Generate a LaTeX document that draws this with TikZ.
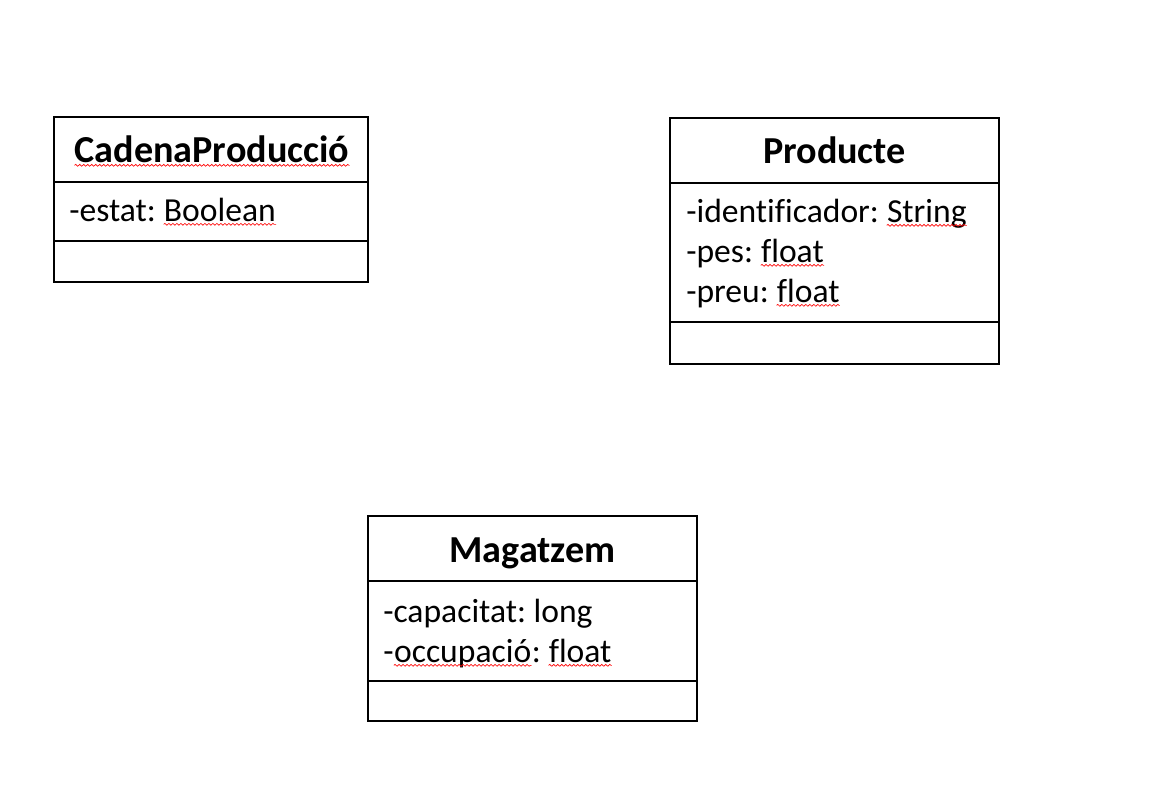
\documentclass[tikz,border=0pt]{standalone}
\usepackage{fontspec}
\setmainfont{Carlito}[Ligatures=CommonOff]
\usetikzlibrary{positioning}
\usetikzlibrary{decorations.pathmorphing}
\frenchspacing

\begin{document}
\begin{tikzpicture}[x=0.75pt,y=-0.75pt,
    attr/.style={inner sep=0pt, anchor=base west, font=\fontsize{25.2}{30}\selectfont},
    title/.style={inner sep=0pt, anchor=base, font=\fontsize{28.6}{34}\selectfont\bfseries}]
    \tikzset{classbox/.style={draw=black, line width=1.5pt}}
    \tikzset{spell/.style={draw=red, line width=0.5pt, decorate, decoration={snake, amplitude=0.7pt, segment length=3pt}}}
    \useasboundingbox (0,0) rectangle (1155,807);
    % CadenaProduccio
    \draw[classbox] (54,117) rectangle (368,282);
    \draw[classbox] (54,182) -- (368,182);
    \draw[classbox] (54,241) -- (368,241);
    \node[title] (cadena) at (212,162) {CadenaProducció};
    \node[attr] (estat) at (69,221) {-estat:};
    \node[attr] (estatT) at ([xshift=5.6pt]estat.base east) {Boolean};
    
    % Producte
    \draw[classbox] (670,118) rectangle (999,364);
    \draw[classbox] (670,183) -- (999,183);
    \draw[classbox] (670,322) -- (999,322);
    \node[title] (producte) at (834.5,163) {Producte};
    \node[attr] (ident) at (686,222) {-identificador:};
    \node[attr] (identT) at ([xshift=5.6pt]ident.base east) {String};
    \node[attr] (pes) at (686,262) {-pes:};
    \node[attr] (pesT) at ([xshift=5.6pt]pes.base east) {float};
    \node[attr] (preu) at (686,302) {-preu:};
    \node[attr] (preuT) at ([xshift=5.6pt]preu.base east) {float};
    
    % Magatzem
    \draw[classbox] (368,516) rectangle (697,721);
    \draw[classbox] (368,581) -- (697,581);
    \draw[classbox] (368,681) -- (697,681);
    \node[title] (magatzem) at (532.5,562) {Magatzem};
    \node[attr] (capac) at (383,622) {-capacitat: long};
    \node[attr] (ocup) at (383,662) {-};
    \node[attr] (ocupN) at (ocup.base east) {occupació};
    \node[attr] (ocupC) at (ocupN.base east) {:};
    \node[attr] (ocupT) at ([xshift=5.6pt]ocupC.base east) {float};
    
    % spell marks
    \foreach \w in {cadena, estatT, identT, pesT, preuT, ocupN, ocupT} {
    \draw[spell] ([yshift=-2.5pt]\w.base west) -- ([yshift=-2.5pt]\w.base east);
    }
\end{tikzpicture}
\end{document}
